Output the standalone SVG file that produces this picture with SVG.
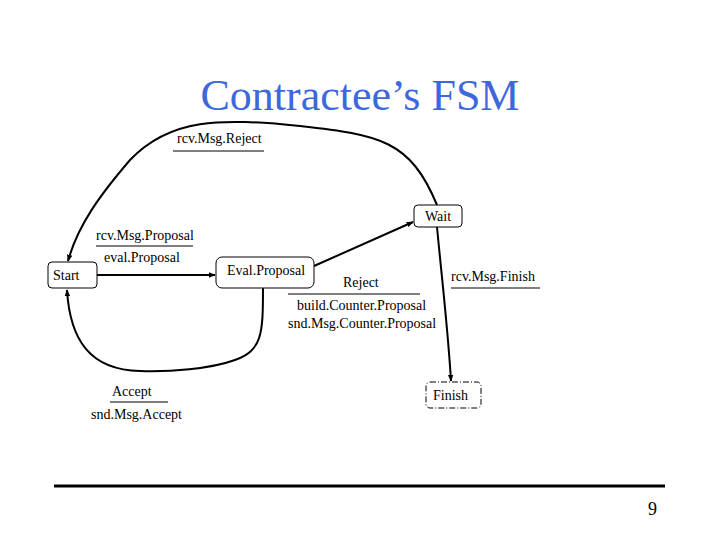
<svg xmlns="http://www.w3.org/2000/svg" width="720" height="540" viewBox="0 0 720 540">
<defs>
<marker id="ah" viewBox="0 0 10 10" refX="9" refY="5" markerWidth="7" markerHeight="7" markerUnits="userSpaceOnUse" orient="auto"><path d="M0,1 L10,5 L0,9 z" fill="#000"/></marker>
</defs>
<rect width="720" height="540" fill="#fff"/>
<text x="360" y="110" text-anchor="middle" fill="#3d68dc" font-family="Liberation Serif" font-size="44">Contractee&#8217;s FSM</text>
<g id="connectors" fill="none" stroke="#000" stroke-width="2" marker-end="url(#ah)">
<path d="M437,205 C410,140 380,135 300,126 C220,118 170,118 130,160 C100,195 78,225 68,261"/>
<line x1="97" y1="275" x2="215" y2="275"/>
<line x1="314" y1="266" x2="413" y2="222"/>
<path d="M437,227 C442,280 448,330 451,381"/>
<path d="M263,288 C263,335 262,350 235,360 C210,369 170,372 140,371 C90,370 70,340 67,290"/>
</g>
<g id="labels" font-family="Liberation Serif" font-size="14" fill="#000">
<text x="177" y="143">rcv.Msg.Reject</text>
<text x="96" y="240">rcv.Msg.Proposal</text>
<text x="104" y="262">eval.Proposal</text>
<text x="343" y="287">Reject</text>
<text x="297" y="310">build.Counter.Proposal</text>
<text x="288" y="328">snd.Msg.Counter.Proposal</text>
<text x="451" y="281">rcv.Msg.Finish</text>
<text x="112" y="396">Accept</text>
<text x="91" y="419">snd.Msg.Accept</text>
</g>
<g id="label-bars" stroke="#000" stroke-width="1">
<line x1="173" y1="151" x2="264" y2="151"/>
<line x1="96" y1="246" x2="193" y2="246"/>
<line x1="288" y1="294" x2="420" y2="294"/>
<line x1="451" y1="288" x2="540" y2="288"/>
<line x1="110" y1="402" x2="168" y2="402"/>
</g>
<g id="wait"><rect x="414" y="205" width="48" height="22" rx="4" fill="#fff" stroke="#000"/><text x="425" y="221" font-family="Liberation Serif" font-size="14">Wait</text></g>
<g id="start"><rect x="48" y="262" width="49" height="26" rx="4" fill="#fff" stroke="#000"/><text x="53" y="280" font-family="Liberation Serif" font-size="14">Start</text></g>
<g id="evalproposal"><rect x="216" y="257" width="98" height="31" rx="6" fill="#fff" stroke="#000"/><text x="227" y="275" font-family="Liberation Serif" font-size="14">Eval.Proposal</text></g>
<g id="finish"><rect x="426" y="382" width="55" height="26" rx="4" fill="#fff" stroke="#000" stroke-dasharray="6,2,1,2"/><text x="433" y="400" font-family="Liberation Serif" font-size="14">Finish</text></g>
<line x1="54" y1="486" x2="665" y2="486" stroke="#000" stroke-width="3"/>
<text x="648" y="515" font-family="Liberation Serif" font-size="18">9</text>
</svg>
